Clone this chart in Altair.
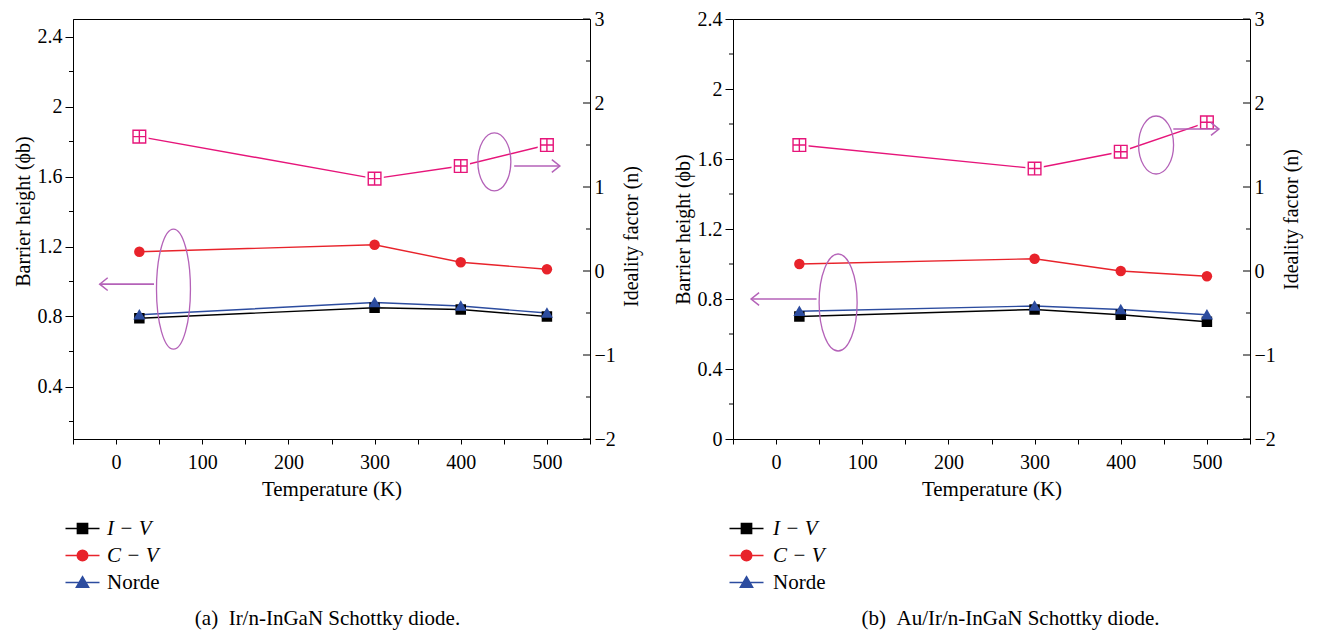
import altair as alt
import pandas as pd

# ---------------- data ----------------
temps = [27, 300, 400, 500]
series = ["I − V", "C − V", "Norde"]
colors = ["#000000", "#e8232b", "#2c4c9f"]
ideal_color = "#e6157a"
note_color = "#b462b8"

a_iv = [0.79, 0.85, 0.84, 0.80]
a_cv = [1.17, 1.21, 1.11, 1.07]
a_norde = [0.81, 0.88, 0.86, 0.82]
a_n = [1.60, 1.10, 1.25, 1.50]

b_iv = [0.70, 0.74, 0.71, 0.67]
b_cv = [1.00, 1.03, 0.96, 0.93]
b_norde = [0.73, 0.76, 0.74, 0.71]
b_n = [1.50, 1.22, 1.42, 1.77]

x_ticks = [-50, 0, 50, 100, 150, 200, 250, 300, 350, 400, 450, 500, 550]
a_y_major = [0.4, 0.8, 1.2, 1.6, 2.0, 2.4]
b_y_major = [0.0, 0.4, 0.8, 1.2, 1.6, 2.0, 2.4]
y_minor = [0.2, 0.6, 1.0, 1.4, 1.8, 2.2]
a_y_domain = [0.1, 2.5]
b_y_domain = [0.0, 2.4]
n_domain = [-2, 3]
n_major = [-2, -1, 0, 1, 2, 3]
n_minor = [-1.5, -0.5, 0.5, 1.5, 2.5]

captions = ["(a)\u00a0\u00a0Ir/n-InGaN Schottky diode.",
            "(b)\u00a0\u00a0Au/Ir/n-InGaN Schottky diode."]
x_title = "Temperature (K)"
y_title = "Barrier height (ϕb)"
n_title = "Ideality factor (n)"

# annotation ellipses: (T centre, value centre, width px, height px)
a_ell_left = (66.6, 0.956, 34, 120)
a_ell_right = (439, 1.30, 33, 58)
b_ell_left = (72, 0.78, 38, 97)
b_ell_right = (441, 1.50, 35, 58)
# annotation arrows: (T start, T tip, value)
a_arrow_left = (44, -19, 0.985)
a_arrow_right = (462, 515, 1.25)
b_arrow_left = (47, -29, 0.80)
b_arrow_right = (461, 514, 1.69)

# ---------------- styling ----------------
FONT = "Liberation Serif"
W, H = 517, 420

point_shapes = [
    "M-1,-1L1,-1L1,1L-1,1Z",
    "circle",
    "M0,-1.1L1.15,0.9L-1.15,0.9Z",
]
legend_paths = {
    "I − V": "M-2,0L2,0M-0.6,-0.6L0.6,-0.6L0.6,0.6L-0.6,0.6Z",
    "C − V": "M-2,0L2,0M-0.62,0A0.62,0.62 0 1,0 0.62,0A0.62,0.62 0 1,0 -0.62,0Z",
    "Norde": "M-2,0L2,0M0,-0.68L0.72,0.56L-0.72,0.56Z",
}
legend_colors = dict(zip(series, colors))
plus_box = "M-1,-1L1,-1L1,1L-1,1ZM0,-1L0,1M-1,0L1,0"


def pick(mapping):
    expr = "'%s'" % mapping[series[-1]]
    for s in reversed(series[:-1]):
        expr = "datum.value === '%s' ? '%s' : %s" % (s, mapping[s], expr)
    return expr


def ellipse_path(w, h):
    r = w / h
    return "M0,-1A%.3f,1 0 1,1 0,1A%.3f,1 0 1,1 0,-1Z" % (r, r)


def panel(iv, cv, norde, nvals, ydom, ymajor, ell_l, ell_r, arr_l, arr_r,
          caption, cap_dx, leg_x, leg_label_offset, ytitle_y, ntitle_y):
    X = alt.X(
        "T:Q",
        scale=alt.Scale(domain=[-50, 550], nice=False, zero=False),
        axis=alt.Axis(
            title=x_title, values=x_ticks,
            labelExpr="datum.value >= 0 && datum.value <= 500 && datum.value % 100 === 0 ? datum.label : ''",
            tickSize=5, labelPadding=8, titlePadding=6, labelFlush=False,
        ),
    )
    YL = alt.Y(
        "v:Q",
        scale=alt.Scale(domain=ydom, nice=False, zero=False),
        axis=alt.Axis(
            title=y_title, orient="left", values=ymajor, format="~g",
            tickSize=8, labelPadding=3, titlePadding=4, titleFontSize=20,
            titleY=ytitle_y,
        ),
    )
    YR = alt.Y(
        "n:Q",
        scale=alt.Scale(domain=n_domain, nice=False, zero=False),
        axis=alt.Axis(
            title=n_title, orient="right", values=n_major, format="~g",
            ticks=False, labelPadding=4, titlePadding=6, titleFontSize=20,
            titleAngle=270, titleBaseline="top", titleY=ntitle_y,
        ),
    )

    df = pd.DataFrame({
        "T": temps * 3,
        "v": iv + cv + norde,
        "s": [s for s in series for _ in temps],
    })
    df["s2"] = df["s"]
    cscale = alt.Scale(domain=series, range=colors)
    sscale = alt.Scale(range=point_shapes)
    legend = alt.Legend(
        title=None, orient="none", legendX=leg_x, legendY=499,
        symbolSize=289, symbolStrokeWidth=1.5, labelOffset=leg_label_offset,
        rowPadding=5, padding=0, labelFont=FONT, labelFontSize=21,
        labelColor="black",
        symbolType=alt.ExprRef(expr=pick(legend_paths)),
        symbolFillColor=alt.ExprRef(expr=pick(legend_colors)),
        symbolStrokeColor=alt.ExprRef(expr=pick(legend_colors)),
        symbolOpacity=1,
        labelFontStyle=alt.ExprRef(expr="datum.value === 'Norde' ? 'normal' : 'italic'"),
    )

    lines = alt.Chart(df).mark_line(strokeWidth=1.4).encode(
        x=X, y=YL, color=alt.Color("s:N", scale=cscale, legend=legend, sort=series),
    )
    points = alt.Chart(df).mark_point(filled=True, size=110, opacity=1).encode(
        x=X, y=YL,
        color=alt.Color("s:N", scale=cscale, legend=legend, sort=series),
        shape=alt.Shape("s2:N", scale=sscale, legend=None, sort=series),
    )

    ell_l_df = pd.DataFrame({"T": [ell_l[0]], "v": [ell_l[1]]})
    ell_l_layer = alt.Chart(ell_l_df).mark_point(
        shape=ellipse_path(ell_l[2], ell_l[3]), size=ell_l[3] ** 2, filled=False,
        stroke=note_color, strokeWidth=1.3, opacity=1,
    ).encode(x=X, y=YL)
    arr_l_df = pd.DataFrame({"T": [arr_l[0]], "T2": [arr_l[1]], "v": [arr_l[2]]})
    arr_l_line = alt.Chart(arr_l_df).mark_rule(stroke=note_color, strokeWidth=1.6).encode(
        x=X, x2="T2:Q", y=YL)
    arr_l_head_df = pd.DataFrame({"T": [arr_l[1]], "v": [arr_l[2]]})
    arr_l_head = alt.Chart(arr_l_head_df).mark_point(
        shape="M1,-0.8L0,0L1,0.8", size=256, filled=False,
        stroke=note_color, strokeWidth=1.5, opacity=1,
    ).encode(x=X, y=YL)

    yminor_df = pd.DataFrame({"v": y_minor})
    y_minor_ticks = alt.Chart(yminor_df).mark_rule(color="black", strokeWidth=1).encode(
        y=YL, x=alt.value(0), x2=alt.value(-4))

    left_group = alt.layer(lines, points, ell_l_layer, arr_l_line, arr_l_head, y_minor_ticks)

    ndf = pd.DataFrame({"T": temps, "n": nvals})
    n_line = alt.Chart(ndf).mark_line(strokeWidth=1.4, color=ideal_color).encode(x=X, y=YR)
    n_halo = alt.Chart(ndf).mark_point(
        shape="square", size=340, filled=True, color="white", opacity=1).encode(x=X, y=YR)
    n_pts = alt.Chart(ndf).mark_point(
        shape=plus_box, size=160, filled=True, fill="white", stroke=ideal_color,
        strokeWidth=1.4, opacity=1).encode(x=X, y=YR)

    ell_r_df = pd.DataFrame({"T": [ell_r[0]], "n": [ell_r[1]]})
    ell_r_layer = alt.Chart(ell_r_df).mark_point(
        shape=ellipse_path(ell_r[2], ell_r[3]), size=ell_r[3] ** 2, filled=False,
        stroke=note_color, strokeWidth=1.3, opacity=1,
    ).encode(x=X, y=YR)
    arr_r_df = pd.DataFrame({"T": [arr_r[0]], "T2": [arr_r[1]], "n": [arr_r[2]]})
    arr_r_line = alt.Chart(arr_r_df).mark_rule(stroke=note_color, strokeWidth=1.6).encode(
        x=X, x2="T2:Q", y=YR)
    arr_r_head_df = pd.DataFrame({"T": [arr_r[1]], "n": [arr_r[2]]})
    arr_r_head = alt.Chart(arr_r_head_df).mark_point(
        shape="M-1,-0.8L0,0L-1,0.8", size=256, filled=False,
        stroke=note_color, strokeWidth=1.5, opacity=1,
    ).encode(x=X, y=YR)

    major_df = pd.DataFrame({"n": n_major})
    minor_df = pd.DataFrame({"n": n_minor})
    major_ticks = alt.Chart(major_df).mark_rule(color="black", strokeWidth=1).encode(
        y=YR, x=alt.value(W), x2=alt.value(W - 7))
    minor_ticks = alt.Chart(minor_df).mark_rule(color="black", strokeWidth=1).encode(
        y=YR, x=alt.value(W), x2=alt.value(W - 4))

    right_group = alt.layer(n_line, n_halo, n_pts, ell_r_layer, arr_r_line, arr_r_head,
                            major_ticks, minor_ticks)

    return alt.layer(left_group, right_group).resolve_scale(y="independent").properties(
        width=W, height=H,
        title=alt.TitleParams(
            caption, orient="bottom", anchor="middle", frame="group", offset=15,
            dx=cap_dx, font=FONT, fontSize=21, fontWeight="normal", color="black",
        ),
    )


pa = panel(a_iv, a_cv, a_norde, a_n, a_y_domain, a_y_major, a_ell_left, a_ell_right,
           a_arrow_left, a_arrow_right, captions[0], -4, -1, 14, 192, 217)
pb = panel(b_iv, b_cv, b_norde, b_n, b_y_domain, b_y_major, b_ell_left, b_ell_right,
           b_arrow_left, b_arrow_right, captions[1], 19, 3, 16, 210, 200)

chart = alt.hconcat(pa, pb, spacing=143, bounds="flush").resolve_scale(
    color="independent", shape="independent"
).resolve_legend(
    color="independent", shape="independent"
).properties(
    padding={"left": 4, "top": 0, "right": 5, "bottom": 2}
).configure_view(
    stroke="black", strokeWidth=1
).configure_axis(
    grid=False, domainColor="black", domainWidth=1, tickColor="black", tickWidth=1,
    labelColor="black", labelFont=FONT, labelFontSize=20, titleFont=FONT,
    titleFontSize=21, titleFontWeight="normal", titleColor="black",
)

chart.save("out.html", embed_options={"renderer": "svg", "actions": False})
